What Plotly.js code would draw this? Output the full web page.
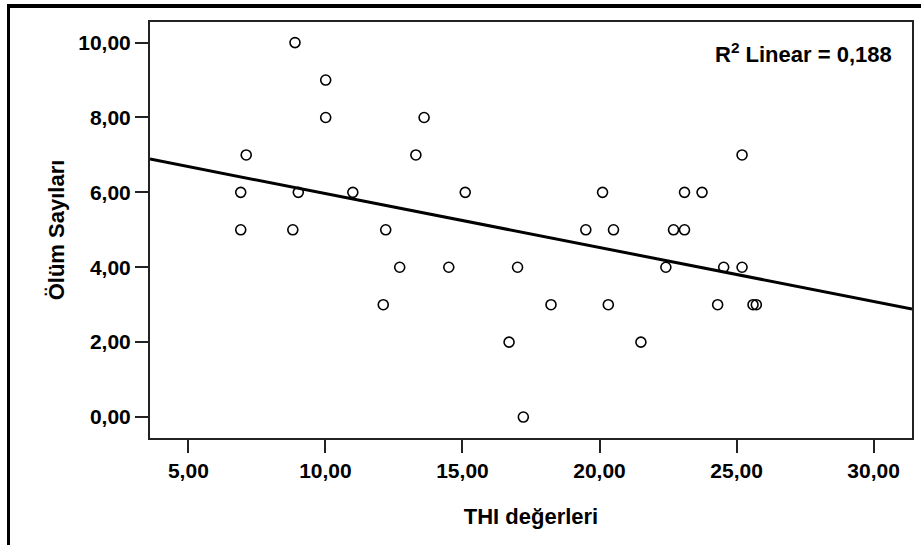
<!DOCTYPE html>
<html>
<head>
<meta charset="utf-8">
<script src="https://cdn.plot.ly/plotly-3.0.1.min.js"></script>
<style>
html,body{margin:0;padding:0;background:#fff;}
#chart{width:921px;height:545px;}
</style>
</head>
<body>
<div id="chart"></div>
<script>
// THI values (x) and death counts (y)
var thiValues = [8.89, 10.01, 10.01, 13.60, 7.11, 13.30, 6.91, 9.01, 11.00, 6.91, 8.81, 12.20,
                 12.71, 14.50, 12.11, 15.10, 20.11, 23.10, 23.74, 25.20, 19.50, 20.51, 22.70, 23.10,
                 17.01, 22.42, 24.53, 25.20, 18.23, 20.32, 24.31, 25.60, 25.72, 16.70, 21.51, 17.22];
var deathCounts = [10, 9, 8, 8, 7, 7, 6, 6, 6, 5, 5, 5,
                   4, 4, 3, 6, 6, 6, 6, 7, 5, 5, 5, 5,
                   4, 4, 4, 4, 3, 3, 3, 3, 3, 2, 2, 0];
var xTickVals = [5, 10, 15, 20, 25, 30];
var yTickVals = [0, 2, 4, 6, 8, 10];
var xRange = [3.6, 31.4];
var yRange = [-0.56, 10.55];
var xTitle = 'THI değerleri';
var yTitle = 'Ölüm Sayıları';
var r2Label = 'R<sup>2</sup> Linear = 0,188';

// least-squares fit line
var n = thiValues.length, sx = 0, sy = 0, sxx = 0, sxy = 0;
for (var i = 0; i < n; i++) {
  sx += thiValues[i]; sy += deathCounts[i];
  sxx += thiValues[i] * thiValues[i]; sxy += thiValues[i] * deathCounts[i];
}
var slope = (n * sxy - sx * sy) / (n * sxx - sx * sx);
var intercept = (sy - slope * sx) / n;
var fitX = [xRange[0], xRange[1]];
var fitY = fitX.map(function (v) { return intercept + slope * v; });

var FONT = 'Liberation Sans, Arial, sans-serif';
var W = 921, H = 545, L = 150, T = 22, R = 9, B = 107;
var pw = W - L - R, ph = H - T - B;
function px2paperX(p) { return (p - L) / pw; }
function px2paperY(p) { return 1 - (p - T) / ph; }

var traces = [
  {
    x: thiValues, y: deathCounts, type: 'scatter', mode: 'markers',
    marker: { symbol: 'circle-open', size: 10, color: '#000', line: { width: 1.6, color: '#000' } },
    hoverinfo: 'x+y', showlegend: false
  },
  {
    x: fitX, y: fitY, type: 'scatter', mode: 'lines',
    line: { color: '#000', width: 3 }, hoverinfo: 'skip', showlegend: false
  }
];

var axisCommon = {
  showgrid: false, zeroline: false, showline: true, mirror: true,
  linecolor: '#222', linewidth: 2, ticks: 'outside', ticklen: 13, tickwidth: 2, tickcolor: '#222',
  tickfont: { family: FONT, size: 21, color: '#000', weight: 'bold' },
  tickformat: '.2f'
};

var layout = {
  width: W, height: H,
  margin: { l: L, r: R, t: T, b: B, pad: 0 },
  paper_bgcolor: '#fff', plot_bgcolor: '#fff',
  separators: ',.',
  font: { family: FONT, color: '#000' },
  xaxis: Object.assign({}, axisCommon, {
    range: xRange, tickvals: xTickVals,
    title: { text: xTitle, font: { family: FONT, size: 22, color: '#000', weight: 'bold' }, standoff: 27 }
  }),
  yaxis: Object.assign({}, axisCommon, {
    range: yRange, tickvals: yTickVals,
    title: { text: yTitle, font: { family: FONT, size: 22, color: '#000', weight: 'bold' }, standoff: 8 }
  }),
  annotations: [{
    text: r2Label, xref: 'paper', yref: 'paper', x: px2paperX(894), y: px2paperY(53),
    xanchor: 'right', yanchor: 'middle', showarrow: false,
    font: { family: FONT, size: 22, color: '#000', weight: 'bold' }
  }],
  shapes: [
    { type: 'line', xref: 'paper', yref: 'paper', x0: px2paperX(7), x1: px2paperX(925),
      y0: px2paperY(6), y1: px2paperY(6), line: { color: '#000', width: 4 } },
    { type: 'line', xref: 'paper', yref: 'paper', x0: px2paperX(8.5), x1: px2paperX(8.5),
      y0: px2paperY(4), y1: px2paperY(550), line: { color: '#000', width: 3 } }
  ]
};

Plotly.newPlot('chart', traces, layout, { displayModeBar: false, staticPlot: true });
</script>
</body>
</html>
